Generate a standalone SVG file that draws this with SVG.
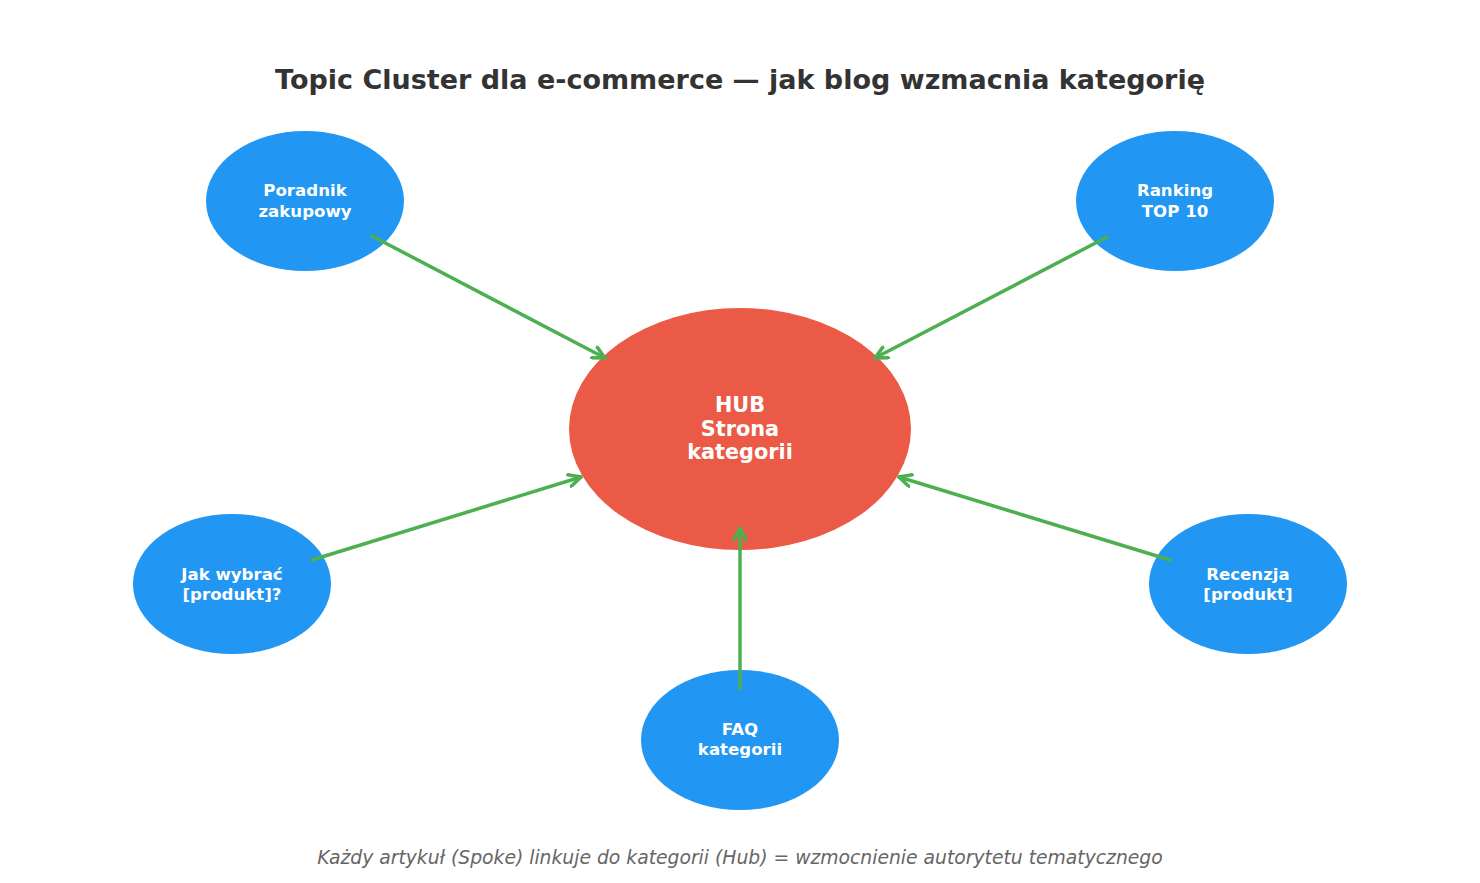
<svg xmlns="http://www.w3.org/2000/svg" width="1480" height="883" viewBox="0 0 1480 883">
<style>
.bg{fill:#ffffff}
.spoke{fill:#2196F3}
.hub{fill:#EB5A46}
.title{font-family:"DejaVu Sans",sans-serif;font-weight:bold;font-size:27px;fill:#333333;text-anchor:middle}
.st{font-family:"DejaVu Sans",sans-serif;font-weight:bold;font-size:16.6px;fill:#ffffff;text-anchor:middle}
.ht{font-family:"DejaVu Sans",sans-serif;font-weight:bold;font-size:20.8px;fill:#ffffff;text-anchor:middle}
.foot{font-family:"DejaVu Sans",sans-serif;font-style:italic;font-size:18.75px;fill:#666666;text-anchor:middle}
.conn{stroke:#4CAF50;stroke-width:3.5;fill:none;stroke-linecap:round;marker-end:url(#arr)}
</style>
<defs>
<marker id="arr" markerUnits="userSpaceOnUse" viewBox="0 0 15 15" refX="13.5" refY="7.5" markerWidth="15" markerHeight="15" orient="auto">
<path d="M1.5,1.5 L13.5,7.5 L1.5,13.5" fill="none" stroke="#4CAF50" stroke-width="3.5" stroke-linecap="round" stroke-linejoin="round"/>
</marker>
</defs>
<rect class="bg" x="0" y="0" width="1480" height="883"/>
<text class="title" x="740" y="89">Topic Cluster dla e-commerce — jak blog wzmacnia kategorię</text>
<g id="hub">
<ellipse class="hub" cx="740" cy="429" rx="171" ry="121"/>
<text class="ht" x="740" y="412">HUB</text>
<text class="ht" x="740" y="436">Strona</text>
<text class="ht" x="740" y="459">kategorii</text>
</g>
<g id="poradnik">
<ellipse class="spoke" cx="305" cy="201" rx="99" ry="70"/>
<text class="st" x="305" y="196">Poradnik</text>
<text class="st" x="305" y="217">zakupowy</text>
</g>
<g id="ranking">
<ellipse class="spoke" cx="1175" cy="201" rx="99" ry="70"/>
<text class="st" x="1175" y="196">Ranking</text>
<text class="st" x="1175" y="217">TOP 10</text>
</g>
<g id="jak-wybrac">
<ellipse class="spoke" cx="232" cy="584" rx="99" ry="70"/>
<text class="st" x="232" y="580">Jak wybrać</text>
<text class="st" x="232" y="600">[produkt]?</text>
</g>
<g id="recenzja">
<ellipse class="spoke" cx="1248" cy="584" rx="99" ry="70"/>
<text class="st" x="1248" y="580">Recenzja</text>
<text class="st" x="1248" y="600">[produkt]</text>
</g>
<g id="faq">
<ellipse class="spoke" cx="740" cy="740" rx="99" ry="70"/>
<text class="st" x="740" y="735">FAQ</text>
<text class="st" x="740" y="755">kategorii</text>
</g>
<g id="connectors">
<line class="conn" x1="372" y1="236" x2="605" y2="358"/>
<line class="conn" x1="1107" y1="237" x2="875" y2="358"/>
<line class="conn" x1="312" y1="560" x2="581" y2="477"/>
<line class="conn" x1="1170" y1="560" x2="899" y2="477"/>
<line class="conn" x1="740" y1="689" x2="740" y2="528"/>
</g>
<text class="foot" x="740" y="864">Każdy artykuł (Spoke) linkuje do kategorii (Hub) = wzmocnienie autorytetu tematycznego</text>
</svg>
